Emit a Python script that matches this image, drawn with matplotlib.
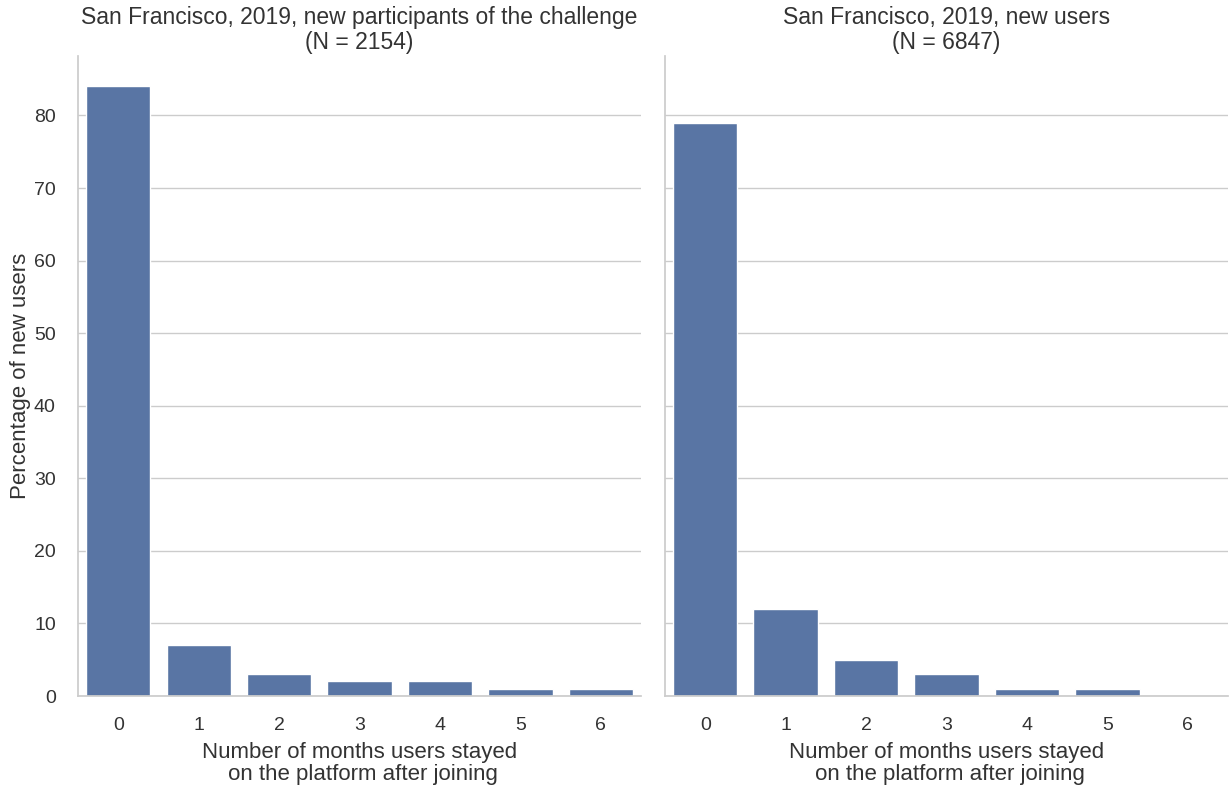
import numpy as np
import matplotlib.pyplot as plt
import seaborn as sns


# ==================== DATA ====================
months = [0, 1, 2, 3, 4, 5, 6]
challenge_pct = [84, 7, 3, 2, 2, 1, 1]      # new participants of the challenge
all_users_pct = [79, 12, 5, 3, 1, 1, 0]     # all new users

titles = ["San Francisco, 2019, new participants of the challenge\n(N = 2154)",
          "San Francisco, 2019, new users\n(N = 6847)"]
xlabel = "Number of months users stayed\n on the platform after joining"
ylabel = "Percentage of new users"


# ==================== STYLE ====================
sns.set_theme(style="whitegrid")
plt.rcParams['font.family'] = ['Liberation Sans', 'DejaVu Sans']
text_color = '#333333'


# ==================== PLOT ====================
fig = plt.figure(figsize=(12.29, 7.86), dpi=100)
ax1 = fig.add_axes([0.0635, 0.1145, 0.4581, 0.8143])
ax2 = fig.add_axes([0.5411, 0.1145, 0.4581, 0.8143], sharey=ax1)

for ax, vals, title in zip([ax1, ax2], [challenge_pct, all_users_pct], titles):
    sns.barplot(x=months, y=vals, color='#4C72B0', ax=ax)
    ax.set_title(title, fontsize=16.5, color=text_color, pad=5, linespacing=1.1)
    ax.set_xlabel(xlabel, fontsize=16, color=text_color, labelpad=6, linespacing=1.05)
    ax.tick_params(axis='both', labelsize=14, colors=text_color, length=0)
    ax.tick_params(axis='x', pad=15)
    ax.tick_params(axis='y', pad=16)
    ax.grid(axis='x', visible=False)
    for side in ['top', 'right']:
        ax.spines[side].set_visible(False)

ax1.set_ylabel(ylabel, fontsize=16, color=text_color, labelpad=2)
ax2.set_ylabel('')
ax2.tick_params(axis='y', labelleft=False)

fig.savefig('out.png', dpi=100)
